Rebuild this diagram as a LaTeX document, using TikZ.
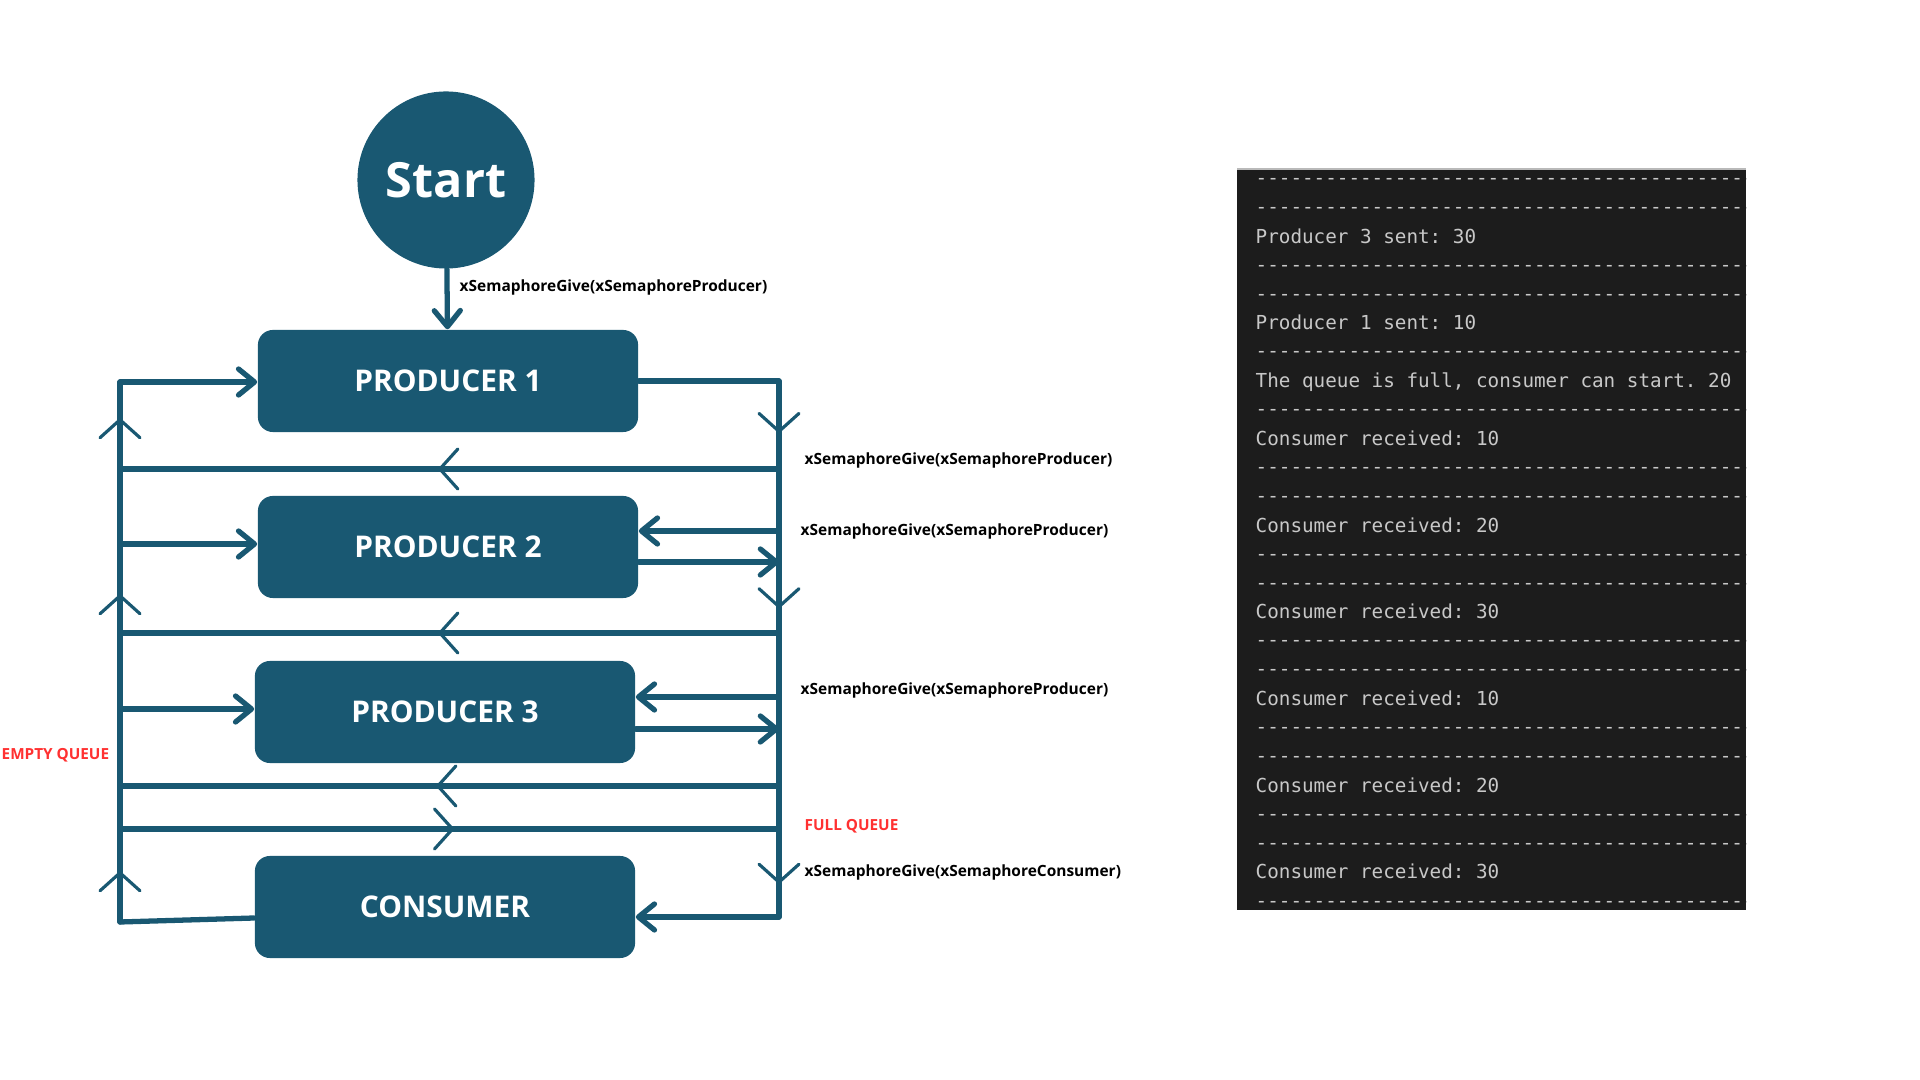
\documentclass[tikz,border=0pt]{standalone}
\usepackage{fontspec}
\setmainfont{Open Sans}
\newfontfamily\termfont{DejaVu Sans Mono}
\usepackage{tikz}
\usetikzlibrary{arrows.meta}
\usetikzlibrary{decorations.markings}

\definecolor{flow}{RGB}{25,88,114}
\definecolor{alert}{RGB}{255,49,49}
\definecolor{termbg}{RGB}{28,28,28}
\definecolor{termfg}{RGB}{200,200,200}

\newcommand{\dashrow}{\foreach \i in {1,...,44}{-{}}}

\tikzset{
  intip/.tip={Straight Barb[length=1.6mm,width=2.6mm,round]},
  chev/.tip={Straight Barb[length=1.8mm,width=4mm,line width=0.9pt,round]},
  conn/.style={draw=flow, line width=1.5pt, line cap=round},
  box/.style={fill=flow, rounded corners=1.5mm, minimum width=3.8cm, minimum height=1.02cm,
    text=white, font=\fontsize{8.5}{10}\selectfont\bfseries},
  lbl/.style={anchor=west, inner sep=0pt, font=\fontsize{4.4}{5.5}\selectfont\bfseries},
  queue/.style={lbl, text=alert, font=\fontsize{4.35}{5.5}\selectfont\bfseries},
  term/.style={anchor=base west, inner sep=0pt, text=termfg,
    font=\fontsize{5.48}{6.5}\termfont\frenchspacing},
  midchev/.style={postaction={decorate},
    decoration={markings, mark=at position #1 with {\arrow{chev}}}},
  busmarks/.style n args={3}{postaction={decorate},
    decoration={markings, mark=at position #1 with {\arrow{chev}},
      mark=at position #2 with {\arrow{chev}}, mark=at position #3 with {\arrow{chev}}}}
}

\begin{document}
\begin{tikzpicture}[x=0.01cm, y=-0.01cm]

\useasboundingbox (0,0) rectangle (1920,1080);

\node[circle, fill=flow, minimum size=1.77cm, inner sep=0pt, text=white,
  font=\fontsize{13.8}{16}\selectfont\bfseries] (start) at (446,180) {Start};

\node[box] (p1) at (448,381) {PRODUCER 1};
\node[box] (p2) at (448,547) {PRODUCER 2};
\node[box] (p3) at (445,712) {PRODUCER 3};
\node[box] (cons) at (445,907) {CONSUMER};

% bus points
\coordinate (lt) at (120,382);
\coordinate (l2) at (120,544);
\coordinate (l3) at (120,709);
\coordinate (lb) at (120,922);
\coordinate (rt) at (779,381);
\coordinate (r2a) at (779,531);
\coordinate (r2b) at (779,562);
\coordinate (r3a) at (779,697);
\coordinate (r3b) at (779,729);
\coordinate (rb) at (779,917);
\coordinate (x1) at (779,469);
\coordinate (x2) at (779,633);
\coordinate (x3) at (779,786);
\coordinate (x4) at (120,829);

\draw[conn,-intip] (start) -- (p1);

\draw[conn,busmarks={0.094}{0.607}{0.933}] (lb) -- (lt);
\draw[conn,busmarks={0.097}{0.424}{0.938}] (rt) -- (rb);

\draw[conn,-intip] (lt) -- (lt -| p1.west);
\draw[conn] (rt -| p1.east) -- (rt);
\draw[conn,midchev=0.517] (x1) -- (x1 -| lt);

\draw[conn,-intip] (l2) -- (l2 -| p2.west);
\draw[conn,-intip] (r2a) -- (r2a -| p2.east);
\draw[conn,-intip] (r2b -| p2.east) -- (r2b);
\draw[conn,midchev=0.517] (x2) -- (x2 -| lt);

\draw[conn,-intip] (l3) -- (l3 -| p3.west);
\draw[conn,-intip] (r3a) -- (r3a -| p3.east);
\draw[conn,-intip] (r3b -| p3.east) -- (r3b);
\draw[conn,midchev=0.52] (x3) -- (x3 -| lt);
\draw[conn,midchev=0.507] (x4) -- (x4 -| rt);

\draw[conn] ([yshift=-1.1mm]cons.west) -- (lb);
\draw[conn,-intip] (rb) -- (rb -| cons.east);

\path
(459,287) node[lbl] (gp0) {xSemaphoreGive(xSemaphoreProducer)}
(804,460) node[lbl] (gp1) {xSemaphoreGive(xSemaphoreProducer)}
(800,531) node[lbl] (gp2) {xSemaphoreGive(xSemaphoreProducer)}
(800,690) node[lbl] (gp3) {xSemaphoreGive(xSemaphoreProducer)}
(804,872) node[lbl] (gc) {xSemaphoreGive(xSemaphoreConsumer)}
(804,826) node[queue] (full) {FULL QUEUE}
(1,755) node[queue] (empty) {EMPTY QUEUE};

% terminal output
\fill[termbg] (1237,169) rectangle (1746,910);
\draw[gray!55, line width=0.6pt] (1237,169) -- (1746,169);

\begin{scope}
\clip (1237,169) rectangle (1746,910);
\foreach \k in {0,1,3,4,6,8,10,11,13,14,16,17,19,20,22,23,25}
   \node[term] (d\k) at (1255,{184.6+28.9*\k}) {\dashrow};
\foreach \k/\t in {2/{Producer 3 sent: 30}, 5/{Producer 1 sent: 10},
    7/{The queue is full, consumer can start. 20}, 9/{Consumer received: 10},
    12/{Consumer received: 20}, 15/{Consumer received: 30}, 18/{Consumer received: 10},
    21/{Consumer received: 20}, 24/{Consumer received: 30}}
   \node[term] (t\k) at (1255,{185.3+28.9*\k}) {\t};
\end{scope}

\end{tikzpicture}
\end{document}
